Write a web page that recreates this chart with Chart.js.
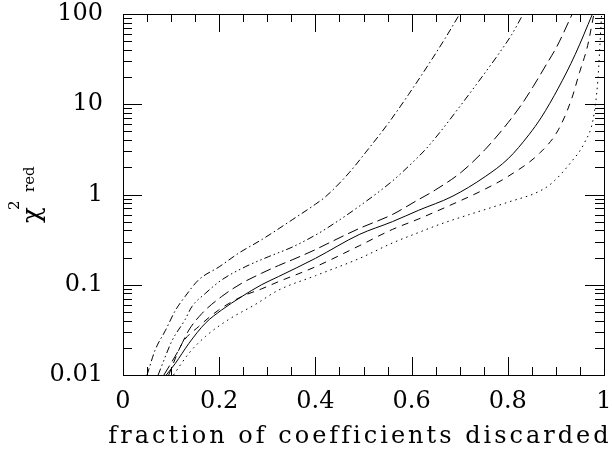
<!DOCTYPE html>
<html>
<head>
<meta charset="utf-8">
<script src="https://cdn.jsdelivr.net/npm/chart.js@4.4.0/dist/chart.umd.min.js"></script>
<style>
  html, body { margin: 0; padding: 0; background: #fff; }
  canvas { display: block; }
</style>
</head>
<body>
<canvas id="chiChart" width="612" height="451"></canvas>
<script>
// values: x = fraction discarded, y = reduced chi^2
const dashDotX = [0.050, 0.067, 0.088, 0.109, 0.129, 0.157, 0.200, 0.240, 0.290, 0.353, 0.400, 0.422, 0.470, 0.505, 0.553, 0.594, 0.636, 0.670, 0.700];
const dashDotY = [0.010, 0.019, 0.031, 0.052, 0.074, 0.113, 0.158, 0.223, 0.32, 0.53, 0.78, 0.955, 1.74, 2.95, 6.3, 12.9, 28, 54, 100];

const dashDot3X = [0.073, 0.102, 0.129, 0.143, 0.171, 0.205, 0.254, 0.302, 0.353, 0.400, 0.422, 0.491, 0.560, 0.601, 0.629, 0.656, 0.698, 0.739, 0.780, 0.808, 0.832];
const dashDot3Y = [0.010, 0.024, 0.041, 0.057, 0.080, 0.113, 0.158, 0.204, 0.263, 0.355, 0.417, 0.74, 1.41, 2.24, 3.16, 4.68, 9.1, 17.8, 35.5, 59, 100];

const longDashX = [0.085, 0.116, 0.137, 0.164, 0.205, 0.247, 0.288, 0.323, 0.353, 0.400, 0.422, 0.491, 0.560, 0.608, 0.649, 0.704, 0.753, 0.801, 0.829, 0.853, 0.880, 0.902, 0.934];
const longDashY = [0.010, 0.019, 0.0315, 0.048, 0.074, 0.104, 0.134, 0.163, 0.19, 0.245, 0.28, 0.42, 0.60, 0.84, 1.12, 1.78, 3.16, 6.3, 10, 15.8, 27.5, 43.6, 100];

const solidX = [0.090, 0.109, 0.137, 0.171, 0.205, 0.247, 0.288, 0.323, 0.400, 0.491, 0.560, 0.615, 0.684, 0.753, 0.801, 0.844, 0.870, 0.905, 0.940, 0.976];
const solidY = [0.010, 0.0135, 0.0224, 0.0374, 0.0525, 0.074, 0.10, 0.123, 0.196, 0.36, 0.50, 0.67, 0.95, 1.58, 2.5, 4.6, 7.2, 15.1, 35.5, 100];

const dashedX = [0.095, 0.123, 0.157, 0.199, 0.247, 0.288, 0.323, 0.400, 0.491, 0.560, 0.615, 0.684, 0.753, 0.800, 0.867, 0.905, 0.932, 0.949, 0.966, 0.979];
const dashedY = [0.010, 0.0224, 0.0343, 0.0525, 0.074, 0.090, 0.108, 0.158, 0.27, 0.41, 0.537, 0.776, 1.15, 1.58, 2.9, 5.2, 11.2, 22.4, 44.7, 100];

const dottedX = [0.105, 0.137, 0.171, 0.219, 0.274, 0.323, 0.400, 0.491, 0.560, 0.615, 0.660, 0.718, 0.800, 0.863, 0.891, 0.932, 0.960, 0.978, 0.987, 0.991, 0.995];
const dottedY = [0.010, 0.0174, 0.0266, 0.041, 0.060, 0.087, 0.126, 0.195, 0.29, 0.38, 0.47, 0.595, 0.82, 1.07, 1.33, 2.3, 3.8, 7.1, 17.8, 40, 100];

const xTickLabels = [0, 0.2, 0.4, 0.6, 0.8, 1];
const yTickLabels = [0.01, 0.1, 1, 10, 100];

const FONT = '"DejaVu Serif", serif';

function pts(xs, ys) {
    return xs.map((x, i) => ({ x: x, y: ys[i] }));
}

function line(xs, ys, dash) {
    return {
        data: pts(xs, ys),
        borderColor: '#000',
        borderWidth: 1,
        borderDash: dash,
        pointRadius: 0,
        fill: false,
        cubicInterpolationMode: 'monotone'
    };
}

// the scales must not push the plot box around for label overflow
function noOverflow(s) {
    s.paddingTop = 0;
    s.paddingBottom = 0;
    s.paddingLeft = 0;
    s.paddingRight = 0;
}

// inside tick marks, frame and the axis titles
const frameTicks = {
    id: 'frameTicks',
    afterDraw(chart) {
        const ctx = chart.ctx;
        const a = chart.chartArea;
        const xs = chart.scales.x, ys = chart.scales.y;
        ctx.save();
        ctx.strokeStyle = '#000';
        ctx.lineWidth = 1;
        ctx.beginPath();
        for (let i = 0; i <= 20; i++) {
            const px = Math.round(xs.getPixelForValue(i * 0.05)) + 0.5;
            const len = i % 4 === 0 ? 18 : 8;
            ctx.moveTo(px, a.bottom); ctx.lineTo(px, a.bottom - len);
            ctx.moveTo(px, a.top); ctx.lineTo(px, a.top + len);
        }
        yTickLabels.forEach(d => {
            for (let m = 1; m <= 9; m++) {
                const v = d * m;
                if (v > 100) break;
                const py = Math.round(ys.getPixelForValue(v)) + 0.5;
                const len = m === 1 ? 19 : 9;
                ctx.moveTo(a.left, py); ctx.lineTo(a.left + len, py);
                ctx.moveTo(a.right, py); ctx.lineTo(a.right - len, py);
            }
        });
        ctx.stroke();
        ctx.strokeRect(Math.round(a.left) + 0.5, Math.round(a.top) + 0.5,
            Math.round(a.right - a.left), Math.round(a.bottom - a.top));

        // x title
        ctx.fillStyle = '#000';
        ctx.font = '24px ' + FONT;
        ctx.letterSpacing = '3px';
        ctx.textAlign = 'center';
        ctx.textBaseline = 'alphabetic';
        ctx.fillText('fraction of coefficients discarded', 360, 443);
        ctx.letterSpacing = '0px';

        // y title: chi^2_red, rotated
        ctx.rotate(-Math.PI / 2);
        ctx.textAlign = 'left';
        ctx.font = '26px ' + FONT;
        ctx.fillText('\u03C7', -223, 40);
        ctx.font = '15px ' + FONT;
        ctx.fillText('2', -210, 19);
        ctx.fillText('red', -192, 34);
        ctx.restore();
    }
};

new Chart(document.getElementById('chiChart'), {
    type: 'line',
    data: {
        datasets: [
            line(dashDotX, dashDotY, [7, 3, 1.5, 3]),
            line(dashDot3X, dashDot3Y, [7, 3, 1.5, 3, 1.5, 3, 1.5, 3]),
            line(longDashX, longDashY, [11, 5]),
            line(solidX, solidY, []),
            line(dashedX, dashedY, [7, 6]),
            line(dottedX, dottedY, [1.5, 4])
        ]
    },
    options: {
        responsive: false,
        animation: false,
        devicePixelRatio: 1,
        layout: { padding: { top: 14, right: 8, left: 0, bottom: 0 } },
        plugins: {
            legend: { display: false },
            tooltip: { enabled: false }
        },
        scales: {
            x: {
                type: 'linear',
                min: 0,
                max: 1,
                grid: { display: false, drawTicks: false },
                border: { display: false },
                afterBuildTicks: s => { s.ticks = xTickLabels.map(v => ({ value: v })); },
                afterFit: s => { s.height = 76; noOverflow(s); },
                ticks: {
                    color: '#000',
                    padding: 12,
                    maxRotation: 0,
                    font: { family: FONT, size: 24 },
                    callback: v => String(Math.round(v * 10) / 10)
                }
            },
            y: {
                type: 'logarithmic',
                min: 0.01,
                max: 100,
                grid: { display: false, drawTicks: false },
                border: { display: false },
                afterBuildTicks: s => { s.ticks = yTickLabels.map(v => ({ value: v })); },
                afterFit: s => { s.width = 123; noOverflow(s); },
                ticks: {
                    color: '#000',
                    padding: 20,
                    font: { family: FONT, size: 24 },
                    callback: v => String(v)
                }
            }
        }
    },
    plugins: [frameTicks]
});
</script>
</body>
</html>
